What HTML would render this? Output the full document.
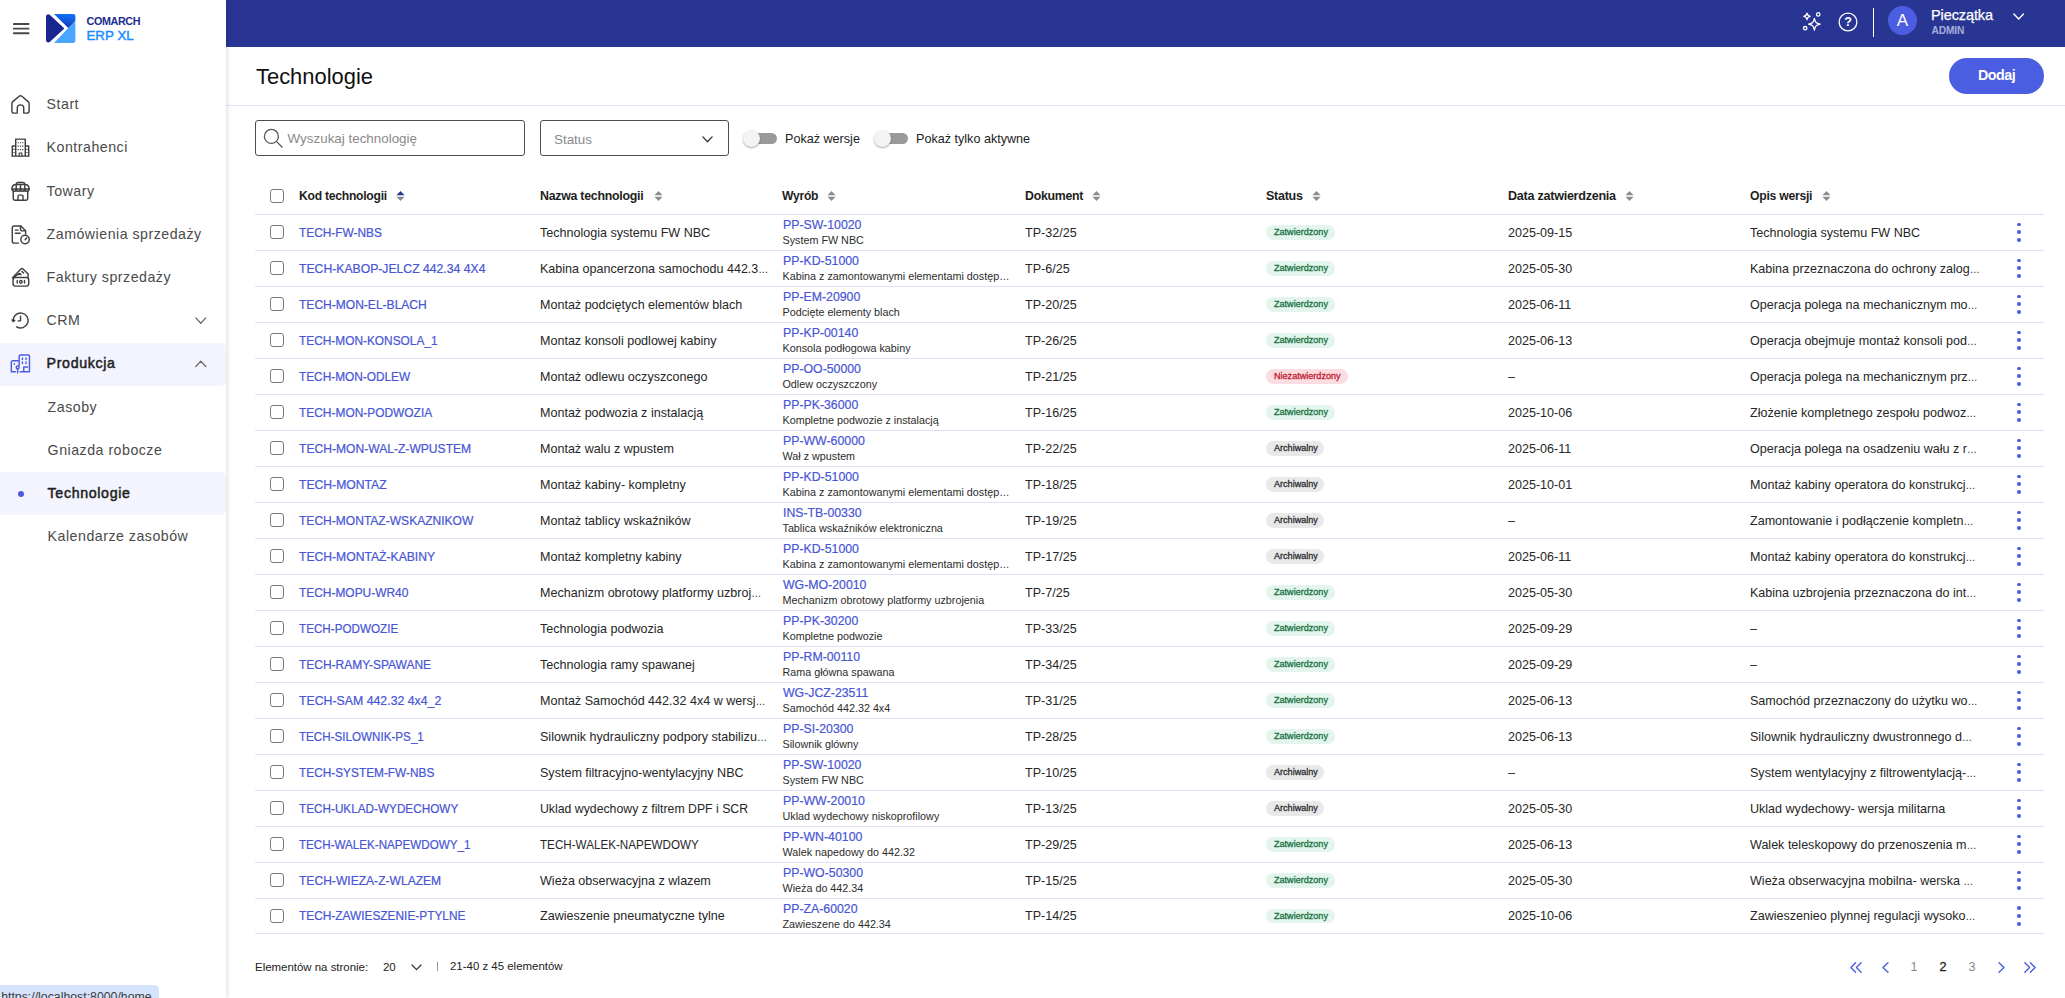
<!DOCTYPE html>
<html lang="pl"><head><meta charset="utf-8"><title>Technologie</title>
<style>
*{box-sizing:border-box;margin:0;padding:0}
html,body{width:2065px;height:998px;overflow:hidden;background:#fff}
body{font-family:"Liberation Sans", sans-serif;color:#222;position:relative;font-size:13px}
.abs{position:absolute}
svg{display:block;overflow:visible}
/* ---------- sidebar ---------- */
#side{position:absolute;left:0;top:0;width:226px;height:998px;background:#fff;z-index:3;
  box-shadow:1px 0 5px rgba(20,20,30,.15)}
.nav{position:absolute;left:0;width:226px;height:43px;}
.hlbg{position:absolute;left:0;width:226px;background:#f3f4fd;border-radius:0 5px 5px 0}
.nav .ic{position:absolute;left:9.7px;top:11px;width:21px;height:21px}
.nav .tx{position:absolute;left:46.6px;top:0;line-height:43px;font-size:14.2px;letter-spacing:.5px;color:#4a4a4a;white-space:nowrap}
.nav.sub .tx{left:47.6px}
.nav .tx.b{font-weight:normal;color:#1f1f1f;letter-spacing:.66px;font-size:14.2px;-webkit-text-stroke:.5px #1f1f1f}
.nav .chev{position:absolute;left:195.2px;top:17.6px;width:11.6px;height:7.4px}
.nav .dot{position:absolute;left:18px;top:19px;width:6px;height:6px;border-radius:50%;background:#4a5be0}
/* ---------- top bar ---------- */
#top{position:absolute;left:226px;top:0;width:1839px;height:46.6px;background:#283593;z-index:2}
#top .sep{position:absolute;left:1647px;top:8px;width:1px;height:29px;background:#fff}
#top .av{position:absolute;left:1662px;top:6px;width:29px;height:29px;border-radius:50%;background:#4b5de0;color:#fff;
  font-size:17px;line-height:29px;text-align:center}
#top .un{position:absolute;left:1705px;top:7px;font-size:14.5px;color:#fff;line-height:16px;white-space:nowrap;letter-spacing:-.1px;-webkit-text-stroke:.25px #fff}
#top .ur{position:absolute;left:1705.5px;top:24.8px;font-size:10.2px;color:#a9aedb;line-height:12px;font-weight:bold;letter-spacing:-.15px}
/* ---------- page header ---------- */
#title{position:absolute;left:255.5px;top:61.5px;font-size:22.8px;line-height:28px;color:#111;transform:scaleX(.961);transform-origin:0 50%;white-space:nowrap}
#hdrline{position:absolute;left:226px;top:105px;width:1839px;height:1px;background:#e2e2fa}
#add{position:absolute;left:1949px;top:58px;width:95px;height:36px;border-radius:18px;background:#4b5de0;color:#fff;
  font-weight:bold;font-size:14.3px;line-height:35px;text-align:center;letter-spacing:-.5px}
/* ---------- filters ---------- */
.box{position:absolute;top:120px;height:36px;border:1px solid #4d4d4d;border-radius:3px;background:#fff}
.ph{position:absolute;top:0;line-height:35px;font-size:13.4px;color:#8a8a8a;white-space:nowrap}
.tg{position:absolute;top:131px;width:34px;height:14px;margin-left:.1px}
.tg i{position:absolute;left:9px;top:2px;width:25px;height:11px;border-radius:6px;background:#9a9a9a}
.tg b{position:absolute;left:0;top:-1px;width:17px;height:17px;border-radius:50%;background:#f4f4f4;
  box-shadow:0 1px 2px rgba(0,0,0,.35)}
.tl{position:absolute;top:130.8px;font-size:12.6px;line-height:16px;color:#222;white-space:nowrap}
/* ---------- table ---------- */
#tbl{position:absolute;left:255px;top:177px;width:1788.7px}
.hr{position:relative;height:38px;border-bottom:1px solid #dedefa}
.r{position:relative;height:36px;border-bottom:1px solid #dedefa}
.r.last{height:35px}
.r.last .c{line-height:34px}
.r.last .cb{top:9.9px}
.r.last .bd{top:9.8px}
.r.last .kb{top:7.2px}
.cb{position:absolute;left:15px;width:14px;height:14px;border:1px solid #7a7a7a;border-radius:3px;background:#fff}
.hr .cb{top:12px}
.r .cb{top:10.4px}
.c{position:absolute;top:0;white-space:nowrap;line-height:35px;font-size:12.75px;color:#262626;transform:scaleX(.984);transform-origin:0 50%}
.el{font-size:10.2px}
.h{position:absolute;top:0;white-space:nowrap;line-height:38px;font-size:12px;font-weight:bold;color:#1e1e1e;letter-spacing:-.25px;transform-origin:0 50%}
.si{position:absolute;top:14px;width:9px;height:10px}
.c.lk{color:#4855d6;transform:scaleX(.934);transform-origin:0 50%;-webkit-text-stroke:.22px #4855d6}
.p1{position:absolute;left:527.6px;top:2px;line-height:16px;font-size:12.75px;color:#4855d6;white-space:nowrap;transform:scaleX(.965);transform-origin:0 50%;-webkit-text-stroke:.2px #4855d6}
.p2{position:absolute;left:527.5px;top:18px;line-height:14px;font-size:10.78px;color:#2c2c2c;white-space:nowrap}
.bd{position:absolute;left:1011.3px;top:10.2px;height:14.6px;border-radius:7.3px;font-size:9.5px;line-height:14.4px;padding:0 7.3px;white-space:nowrap;font-weight:normal;-webkit-text-stroke:.3px currentColor}
.bd span{display:inline-block;transform:scaleX(.955);transform-origin:0 50%;margin-right:-2.6px}
.bd.g{background:#e3f5ec;color:#17703f}
.bd.a{background:#e9e9ea;color:#2b2b2b}
.bd.n{background:#fbdde1;color:#c01833}
.kb{position:absolute;left:1761.8px;top:7.6px;width:3.8px;height:20px}
.kb i{position:absolute;left:0;width:3.8px;height:3.8px;border-radius:50%;background:#4b5de0}
/* ---------- footer ---------- */
.ft{position:absolute;top:959px;line-height:16px;font-size:11.45px;color:#222;white-space:nowrap}
.pg{position:absolute;top:958px;width:20px;text-align:center;line-height:18px;font-size:12.6px;color:#8a8a8a}
#sb{position:absolute;left:0;top:985.4px;width:158.6px;height:20px;background:#d5e3fc;border-top-right-radius:4.5px;z-index:5;
  font-size:12.3px;color:#3c3c3c;line-height:24.6px;padding-left:1.2px;white-space:nowrap;overflow:hidden}
</style></head>
<body>
<div id="side"><svg class="abs" style="left:12.6px;top:23px;width:16.4px;height:12px" viewBox="0 0 16.4 12" fill="#484848"><rect x="0" y="0.1" width="16.4" height="1.9" rx=".4"/><rect x="0" y="4.7" width="16.4" height="1.9" rx=".4"/><rect x="0" y="9.3" width="16.4" height="1.9" rx=".4"/></svg><svg class="abs" style="left:45.9px;top:14px;width:29.4px;height:28.9px" viewBox="0 0 29.4 28.9">
<defs><linearGradient id="lg1" x1="0.6" y1="0" x2="0.35" y2="1"><stop offset="0" stop-color="#0c72fb"/><stop offset="0.45" stop-color="#1258dc"/><stop offset="1" stop-color="#182f9f"/></linearGradient></defs>
<path d="M8 0 H27.2 a2.2 2.2 0 0 1 2.2 2.2 V6 C29 8 27 9.4 22.3 14.1 Z" fill="url(#lg1)"/>
<path d="M22.3 14.1 C27 9.4 29 8 29.4 6.4 V26.7 a2.2 2.2 0 0 1 -2.2 2.2 H8 Z" fill="#4aa5ff"/>
<path d="M0 2.8 C0 0.4 2.4 -0.4 4 1.1 L18.4 14.45 L4 27.8 C2.4 29.3 0 28.5 0 26.1 Z" fill="#17278f"/>
</svg><div class="abs" style="left:86.6px;top:14.6px;font-size:10.8px;line-height:13px;font-weight:bold;color:#1a2b8f;letter-spacing:-.42px;white-space:nowrap">COMARCH</div><div class="abs" style="left:86.4px;top:27.7px;font-size:13.3px;line-height:16px;color:#1a8cff;letter-spacing:.05px;white-space:nowrap;-webkit-text-stroke:.45px #1a8cff">ERP XL</div><div class="hlbg" style="top:343px;height:43px"></div><div class="hlbg" style="top:472px;height:42.6px"></div><div class="nav" style="top:82.5px"><div class="ic"><svg viewBox="0 0 22 22" fill="none" stroke="#3f3f3f" stroke-width="1.5" stroke-linecap="round" stroke-linejoin="round"><path d="M2 10 C2 9 2.4 8.4 3.2 7.7 L9.6 2.3 C10.5 1.6 11.5 1.6 12.4 2.3 L18.8 7.7 C19.6 8.4 20 9 20 10 V17.8 a2.2 2.2 0 0 1 -2.2 2.2 H14.4 V14.8 a3.4 3.4 0 0 0 -6.8 0 V20 H4.2 a2.2 2.2 0 0 1 -2.2 -2.2 Z"/></svg></div><span class="tx">Start</span></div><div class="nav" style="top:125.5px"><div class="ic"><svg viewBox="0 0 22 22" fill="none" stroke="#3f3f3f" stroke-width="1.5" stroke-linecap="round" stroke-linejoin="round" stroke-width="1.3"><path d="M6 20 V2.2 H16 V20 M2.4 20 V9.4 H6 M16 9.4 H19.6 V20 M2 20 H20"/><path d="M8.6 5.4v1.2M11 5.4v1.2M13.4 5.4v1.2M8.6 9v1.2M11 9v1.2M13.4 9v1.2M8.6 12.6v1.2M11 12.6v1.2M13.4 12.6v1.2M4.2 12.4v1.2M4.2 15.6v1.2M17.8 12.4v1.2M17.8 15.6v1.2" stroke-width="1.25" stroke-linecap="butt"/><path d="M9.6 20v-3.2h2.8v3.2" stroke-width="1.2"/></svg></div><span class="tx">Kontrahenci</span></div><div class="nav" style="top:169.5px"><div class="ic"><svg viewBox="0 0 22 22" fill="none" stroke="#3f3f3f" stroke-width="1.5" stroke-linecap="round" stroke-linejoin="round" stroke-width="1.4"><path d="M6.5 3.6 a2 2 0 0 1 2 -2 h5 a2 2 0 0 1 2 2"/><path d="M2 8.4 C2 5.2 4 3.6 6.5 3.6 H15.5 C18 3.6 20 5.2 20 8.4 Z"/><path d="M2 8.4 a2.25 2.25 0 0 0 4.5 0 a2.25 2.25 0 0 0 4.5 0 a2.25 2.25 0 0 0 4.5 0 a2.25 2.25 0 0 0 4.5 0"/><path d="M6.5 3.8v4.6M11 3.8v4.6M15.5 3.8v4.6"/><path d="M3.4 11 V18.4 a1.8 1.8 0 0 0 1.8 1.8 H16.8 a1.8 1.8 0 0 0 1.8 -1.8 V11"/><path d="M8.4 20 V16 a1.2 1.2 0 0 1 1.2 -1.2 h2.8 a1.2 1.2 0 0 1 1.2 1.2 V20"/></svg></div><span class="tx">Towary</span></div><div class="nav" style="top:212.5px"><div class="ic"><svg viewBox="0 0 22 22" fill="none" stroke="#3f3f3f" stroke-width="1.5" stroke-linecap="round" stroke-linejoin="round" stroke-width="1.4"><path d="M9 20 H4.4 a2 2 0 0 1 -2 -2 V4 a2 2 0 0 1 2 -2 H11.4 L16.4 7 V10.6"/><path d="M11 2.4 V5.6 a1.6 1.6 0 0 0 1.6 1.6 H16"/><path d="M5.6 6.4h3M5.6 9.6h5"/><circle cx="15.8" cy="16.2" r="4.4"/><path d="M15.8 16.4 L17.6 14.4"/></svg></div><span class="tx">Zamówienia sprzedaży</span></div><div class="nav" style="top:255.5px"><div class="ic"><svg viewBox="0 0 22 22" fill="none" stroke="#3f3f3f" stroke-width="1.5" stroke-linecap="round" stroke-linejoin="round" stroke-width="1.4"><path d="M2.6 11.2 L11.4 2 a1.6 1.6 0 0 1 2.2 0 L19 7.4 V10.6"/><path d="M4.4 10.8 C6 8.6 8 7.2 10 7.6 M8.6 8.2 a1.4 1.4 0 0 1 2.8 0"/><path d="M12.4 4.6 L14.2 6.4"/><rect x="3.2" y="11" width="16.4" height="9" rx="2.4"/><path d="M7.6 14.2v2.6M15.2 14.2v2.6"/><ellipse cx="11.4" cy="15.5" rx="1.3" ry="1.5"/></svg></div><span class="tx">Faktury sprzedaży</span></div><div class="nav" style="top:298.5px"><div class="ic"><svg viewBox="0 0 22 22" fill="none" stroke="#3f3f3f" stroke-width="1.5" stroke-linecap="round" stroke-linejoin="round" stroke-width="1.4"><path d="M3.4 11.6 A7.8 7.8 0 1 1 7 17.6"/><path d="M2.2 10.4 L3.4 12 L5 10.8" /><path d="M11 6.6 V11.4 H8.6"/></svg></div><span class="tx">CRM</span><svg class="chev" style="top:18.6px" viewBox="0 0 11.6 7.4" fill="none" stroke="#666" stroke-width="1.25" stroke-linecap="round" stroke-linejoin="round"><path d="M0.8 0.9 L5.8 6.3 L10.8 0.9"/></svg></div><div class="nav" style="top:342.0px"><div class="ic"><svg viewBox="0 0 22 22" fill="none" stroke="#4b5de0" stroke-width="1.5" stroke-linecap="round" stroke-linejoin="round" stroke-width="1.5"><path d="M1.4 19.6 V9.6 a1.4 1.4 0 0 1 1.4 -1.4 H9.6 V3.4 a1.4 1.4 0 0 1 1.4 -1.4 H19 a1.4 1.4 0 0 1 1.4 1.4 V19.6 H14.4 V14.6 H18.4 M1.4 19.6 H5.6 M10.6 19.6 H14.4 M9.6 8.2 V13"/><path d="M13 5.2v1.6M16.8 5.2v1.6M13 9.4v1.6M16.8 9.4v1.6M4.6 11.2v.6"/><circle cx="8" cy="15.2" r="1.5"/><path d="M8 16.8 V20.6"/></svg></div><span class="tx b">Produkcja</span><svg class="chev" viewBox="0 0 11.6 7.4" fill="none" stroke="#666" stroke-width="1.25" stroke-linecap="round" stroke-linejoin="round"><path d="M0.8 6.5 L5.8 1.1 L10.8 6.5"/></svg></div><div class="nav sub" style="top:385.5px"><span class="tx">Zasoby</span></div><div class="nav sub" style="top:428.5px"><span class="tx">Gniazda robocze</span></div><div class="nav sub" style="top:471.5px"><span class="dot"></span><span class="tx b">Technologie</span></div><div class="nav sub" style="top:514.5px"><span class="tx">Kalendarze zasobów</span></div></div>
<div id="top"><svg class="abs" style="left:1576px;top:11px;width:20px;height:21px" viewBox="0 0 20 21" fill="none" stroke="#fff" stroke-width="1.3" stroke-linejoin="round">
<path d="M5 2.2 C5.4 4.4 6 5 8.2 5.4 C6 5.8 5.4 6.4 5 8.6 C4.6 6.4 4 5.8 1.8 5.4 C4 5 4.6 4.4 5 2.2 Z"/>
<path d="M12.4 7.4 C13.2 11.4 14.2 12.4 18.2 13.2 C14.2 14 13.2 15 12.4 19 C11.6 15 10.6 14 6.6 13.2 C10.6 12.4 11.6 11.4 12.4 7.4 Z"/>
<circle cx="16.2" cy="3.4" r="1.7"/><circle cx="3.2" cy="17.2" r="1.7"/></svg><svg class="abs" style="left:1611.9px;top:12px;width:20px;height:20px" viewBox="0 0 20 20"><circle cx="10" cy="10" r="8.9" fill="none" stroke="#fff" stroke-width="1.3"/>
<text x="10" y="14.4" text-anchor="middle" font-family="Liberation Sans, sans-serif" font-weight="bold" font-size="12.5" fill="#fff">?</text></svg><div class="sep"></div><div class="av">A</div><div class="un">Pieczątka</div><div class="ur">ADMIN</div><svg class="abs" style="left:1787.4px;top:13.4px;width:11.4px;height:7px" viewBox="0 0 11.4 7" fill="none" stroke="#fff" stroke-width="1.4" stroke-linecap="round" stroke-linejoin="round"><path d="M0.9 0.9 L5.7 5.9 L10.5 0.9"/></svg></div>
<div id="title">Technologie</div><div id="add">Dodaj</div><div id="hdrline"></div><div class="box" style="left:255px;width:270px"><svg class="abs" style="left:6.5px;top:7.3px;width:20px;height:20px" viewBox="0 0 20 20" fill="none" stroke="#555" stroke-width="1.3" stroke-linecap="round"><circle cx="8.4" cy="8.4" r="7"/><path d="M13.6 13.6 L19 19"/></svg><span class="ph" style="left:31.6px">Wyszukaj technologię</span></div><div class="box" style="left:540px;width:189px"><span class="ph" style="left:13px;top:1px">Status</span><svg class="abs" style="left:160.8px;top:14.6px;width:11px;height:7px" viewBox="0 0 11 7" fill="none" stroke="#333" stroke-width="1.35" stroke-linecap="round" stroke-linejoin="round"><path d="M0.9 0.9 L5.5 5.8 L10.1 0.9"/></svg></div><div class="tg" style="left:743px"><i></i><b></b></div><div class="tl" style="left:785px">Pokaż wersje</div><div class="tg" style="left:874px"><i></i><b></b></div><div class="tl" style="left:916px">Pokaż tylko aktywne</div>
<div id="tbl"><div class="hr"><span class="cb"></span><span class="h" style="left:43.6px;transform:scaleX(1.011)">Kod technologii</span><svg class="si" style="left:141.2px" viewBox="0 0 9 10"><path d="M0.4 4.2 L4.5 0 L8.6 4.2 Z" fill="#283593"/><path d="M0.4 5.8 L4.5 10 L8.6 5.8 Z" fill="#8c8c8c"/></svg><span class="h" style="left:285.0px;transform:scaleX(1.03)">Nazwa technologii</span><svg class="si" style="left:398.6px" viewBox="0 0 9 10"><path d="M0.4 4.2 L4.5 0 L8.6 4.2 Z" fill="#8c8c8c"/><path d="M0.4 5.8 L4.5 10 L8.6 5.8 Z" fill="#8c8c8c"/></svg><span class="h" style="left:527px;transform:scaleX(1.01)">Wyrób</span><svg class="si" style="left:572px" viewBox="0 0 9 10"><path d="M0.4 4.2 L4.5 0 L8.6 4.2 Z" fill="#8c8c8c"/><path d="M0.4 5.8 L4.5 10 L8.6 5.8 Z" fill="#8c8c8c"/></svg><span class="h" style="left:769.6px;transform:scaleX(1.027)">Dokument</span><svg class="si" style="left:837px" viewBox="0 0 9 10"><path d="M0.4 4.2 L4.5 0 L8.6 4.2 Z" fill="#8c8c8c"/><path d="M0.4 5.8 L4.5 10 L8.6 5.8 Z" fill="#8c8c8c"/></svg><span class="h" style="left:1011px;transform:scaleX(1.04)">Status</span><svg class="si" style="left:1057px" viewBox="0 0 9 10"><path d="M0.4 4.2 L4.5 0 L8.6 4.2 Z" fill="#8c8c8c"/><path d="M0.4 5.8 L4.5 10 L8.6 5.8 Z" fill="#8c8c8c"/></svg><span class="h" style="left:1253.4px;transform:scaleX(1.048)">Data zatwierdzenia</span><svg class="si" style="left:1370px" viewBox="0 0 9 10"><path d="M0.4 4.2 L4.5 0 L8.6 4.2 Z" fill="#8c8c8c"/><path d="M0.4 5.8 L4.5 10 L8.6 5.8 Z" fill="#8c8c8c"/></svg><span class="h" style="left:1494.9px;transform:scaleX(1.016)">Opis wersji</span><svg class="si" style="left:1567px" viewBox="0 0 9 10"><path d="M0.4 4.2 L4.5 0 L8.6 4.2 Z" fill="#8c8c8c"/><path d="M0.4 5.8 L4.5 10 L8.6 5.8 Z" fill="#8c8c8c"/></svg></div><div class="r"><span class="cb"></span><span class="c lk" style="left:43.6px;transform:scaleX(0.9317)">TECH-FW-NBS</span><span class="c" style="left:285.0px">Technologia systemu FW NBC</span><span class="p1">PP-SW-10020</span><span class="p2">System FW NBC</span><span class="c" style="left:769.6px">TP-32/25</span><span class="bd g"><span>Zatwierdzony</span></span><span class="c" style="left:1253.4px">2025-09-15</span><span class="c" style="left:1494.9px">Technologia systemu FW NBC</span><span class="kb"><i style="top:0"></i><i style="top:7.85px"></i><i style="top:15.7px"></i></span></div><div class="r"><span class="cb"></span><span class="c lk" style="left:43.6px;transform:scaleX(0.9566)">TECH-KABOP-JELCZ 442.34 4X4</span><span class="c" style="left:285.0px">Kabina opancerzona samochodu 442.3<span class="el">…</span></span><span class="p1">PP-KD-51000</span><span class="p2">Kabina z zamontowanymi elementami dostęp<span class="el">…</span></span><span class="c" style="left:769.6px">TP-6/25</span><span class="bd g"><span>Zatwierdzony</span></span><span class="c" style="left:1253.4px">2025-05-30</span><span class="c" style="left:1494.9px">Kabina przeznaczona do ochrony zalog<span class="el">…</span></span><span class="kb"><i style="top:0"></i><i style="top:7.85px"></i><i style="top:15.7px"></i></span></div><div class="r"><span class="cb"></span><span class="c lk" style="left:43.6px;transform:scaleX(0.9441)">TECH-MON-EL-BLACH</span><span class="c" style="left:285.0px">Montaż podciętych elementów blach</span><span class="p1">PP-EM-20900</span><span class="p2">Podcięte elementy blach</span><span class="c" style="left:769.6px">TP-20/25</span><span class="bd g"><span>Zatwierdzony</span></span><span class="c" style="left:1253.4px">2025-06-11</span><span class="c" style="left:1494.9px">Operacja polega na mechanicznym mo<span class="el">…</span></span><span class="kb"><i style="top:0"></i><i style="top:7.85px"></i><i style="top:15.7px"></i></span></div><div class="r"><span class="cb"></span><span class="c lk" style="left:43.6px;transform:scaleX(0.9315)">TECH-MON-KONSOLA_1</span><span class="c" style="left:285.0px">Montaz konsoli podlowej kabiny</span><span class="p1">PP-KP-00140</span><span class="p2">Konsola podłogowa kabiny</span><span class="c" style="left:769.6px">TP-26/25</span><span class="bd g"><span>Zatwierdzony</span></span><span class="c" style="left:1253.4px">2025-06-13</span><span class="c" style="left:1494.9px">Operacja obejmuje montaż konsoli pod<span class="el">…</span></span><span class="kb"><i style="top:0"></i><i style="top:7.85px"></i><i style="top:15.7px"></i></span></div><div class="r"><span class="cb"></span><span class="c lk" style="left:43.6px;transform:scaleX(0.9283)">TECH-MON-ODLEW</span><span class="c" style="left:285.0px">Montaż odlewu oczyszconego</span><span class="p1">PP-OO-50000</span><span class="p2">Odlew oczyszczony</span><span class="c" style="left:769.6px">TP-21/25</span><span class="bd n"><span>Niezatwierdzony</span></span><span class="c" style="left:1253.4px">–</span><span class="c" style="left:1494.9px">Operacja polega na mechanicznym prz<span class="el">…</span></span><span class="kb"><i style="top:0"></i><i style="top:7.85px"></i><i style="top:15.7px"></i></span></div><div class="r"><span class="cb"></span><span class="c lk" style="left:43.6px;transform:scaleX(0.9355)">TECH-MON-PODWOZIA</span><span class="c" style="left:285.0px">Montaż podwozia z instalacją</span><span class="p1">PP-PK-36000</span><span class="p2">Kompletne podwozie z instalacją</span><span class="c" style="left:769.6px">TP-16/25</span><span class="bd g"><span>Zatwierdzony</span></span><span class="c" style="left:1253.4px">2025-10-06</span><span class="c" style="left:1494.9px">Złożenie kompletnego zespołu podwoz<span class="el">…</span></span><span class="kb"><i style="top:0"></i><i style="top:7.85px"></i><i style="top:15.7px"></i></span></div><div class="r"><span class="cb"></span><span class="c lk" style="left:43.6px;transform:scaleX(0.9484)">TECH-MON-WAL-Z-WPUSTEM</span><span class="c" style="left:285.0px">Montaż walu z wpustem</span><span class="p1">PP-WW-60000</span><span class="p2">Wał z wpustem</span><span class="c" style="left:769.6px">TP-22/25</span><span class="bd a"><span>Archiwalny</span></span><span class="c" style="left:1253.4px">2025-06-11</span><span class="c" style="left:1494.9px">Operacja polega na osadzeniu wału z r<span class="el">…</span></span><span class="kb"><i style="top:0"></i><i style="top:7.85px"></i><i style="top:15.7px"></i></span></div><div class="r"><span class="cb"></span><span class="c lk" style="left:43.6px;transform:scaleX(0.9537)">TECH-MONTAZ</span><span class="c" style="left:285.0px">Montaż kabiny- kompletny</span><span class="p1">PP-KD-51000</span><span class="p2">Kabina z zamontowanymi elementami dostęp<span class="el">…</span></span><span class="c" style="left:769.6px">TP-18/25</span><span class="bd a"><span>Archiwalny</span></span><span class="c" style="left:1253.4px">2025-10-01</span><span class="c" style="left:1494.9px">Montaż kabiny operatora do konstrukcj<span class="el">…</span></span><span class="kb"><i style="top:0"></i><i style="top:7.85px"></i><i style="top:15.7px"></i></span></div><div class="r"><span class="cb"></span><span class="c lk" style="left:43.6px;transform:scaleX(0.9444)">TECH-MONTAZ-WSKAZNIKOW</span><span class="c" style="left:285.0px">Montaż tablicy wskaźników</span><span class="p1">INS-TB-00330</span><span class="p2">Tablica wskaźników elektroniczna</span><span class="c" style="left:769.6px">TP-19/25</span><span class="bd a"><span>Archiwalny</span></span><span class="c" style="left:1253.4px">–</span><span class="c" style="left:1494.9px">Zamontowanie i podłączenie kompletn<span class="el">…</span></span><span class="kb"><i style="top:0"></i><i style="top:7.85px"></i><i style="top:15.7px"></i></span></div><div class="r"><span class="cb"></span><span class="c lk" style="left:43.6px;transform:scaleX(0.9527)">TECH-MONTAŻ-KABINY</span><span class="c" style="left:285.0px">Montaż kompletny kabiny</span><span class="p1">PP-KD-51000</span><span class="p2">Kabina z zamontowanymi elementami dostęp<span class="el">…</span></span><span class="c" style="left:769.6px">TP-17/25</span><span class="bd a"><span>Archiwalny</span></span><span class="c" style="left:1253.4px">2025-06-11</span><span class="c" style="left:1494.9px">Montaż kabiny operatora do konstrukcj<span class="el">…</span></span><span class="kb"><i style="top:0"></i><i style="top:7.85px"></i><i style="top:15.7px"></i></span></div><div class="r"><span class="cb"></span><span class="c lk" style="left:43.6px;transform:scaleX(0.9352)">TECH-MOPU-WR40</span><span class="c" style="left:285.0px">Mechanizm obrotowy platformy uzbroj<span class="el">…</span></span><span class="p1">WG-MO-20010</span><span class="p2">Mechanizm obrotowy platformy uzbrojenia</span><span class="c" style="left:769.6px">TP-7/25</span><span class="bd g"><span>Zatwierdzony</span></span><span class="c" style="left:1253.4px">2025-05-30</span><span class="c" style="left:1494.9px">Kabina uzbrojenia przeznaczona do int<span class="el">…</span></span><span class="kb"><i style="top:0"></i><i style="top:7.85px"></i><i style="top:15.7px"></i></span></div><div class="r"><span class="cb"></span><span class="c lk" style="left:43.6px;transform:scaleX(0.9151)">TECH-PODWOZIE</span><span class="c" style="left:285.0px">Technologia podwozia</span><span class="p1">PP-PK-30200</span><span class="p2">Kompletne podwozie</span><span class="c" style="left:769.6px">TP-33/25</span><span class="bd g"><span>Zatwierdzony</span></span><span class="c" style="left:1253.4px">2025-09-29</span><span class="c" style="left:1494.9px">–</span><span class="kb"><i style="top:0"></i><i style="top:7.85px"></i><i style="top:15.7px"></i></span></div><div class="r"><span class="cb"></span><span class="c lk" style="left:43.6px;transform:scaleX(0.9384)">TECH-RAMY-SPAWANE</span><span class="c" style="left:285.0px">Technologia ramy spawanej</span><span class="p1">PP-RM-00110</span><span class="p2">Rama główna spawana</span><span class="c" style="left:769.6px">TP-34/25</span><span class="bd g"><span>Zatwierdzony</span></span><span class="c" style="left:1253.4px">2025-09-29</span><span class="c" style="left:1494.9px">–</span><span class="kb"><i style="top:0"></i><i style="top:7.85px"></i><i style="top:15.7px"></i></span></div><div class="r"><span class="cb"></span><span class="c lk" style="left:43.6px;transform:scaleX(0.9651)">TECH-SAM 442.32 4x4_2</span><span class="c" style="left:285.0px">Montaż Samochód 442.32 4x4 w wersj<span class="el">…</span></span><span class="p1">WG-JCZ-23511</span><span class="p2">Samochód 442.32 4x4</span><span class="c" style="left:769.6px">TP-31/25</span><span class="bd g"><span>Zatwierdzony</span></span><span class="c" style="left:1253.4px">2025-06-13</span><span class="c" style="left:1494.9px">Samochód przeznaczony do użytku wo<span class="el">…</span></span><span class="kb"><i style="top:0"></i><i style="top:7.85px"></i><i style="top:15.7px"></i></span></div><div class="r"><span class="cb"></span><span class="c lk" style="left:43.6px;transform:scaleX(0.9129)">TECH-SILOWNIK-PS_1</span><span class="c" style="left:285.0px">Silownik hydrauliczny podpory stabilizu<span class="el">…</span></span><span class="p1">PP-SI-20300</span><span class="p2">Silownik glówny</span><span class="c" style="left:769.6px">TP-28/25</span><span class="bd g"><span>Zatwierdzony</span></span><span class="c" style="left:1253.4px">2025-06-13</span><span class="c" style="left:1494.9px">Silownik hydrauliczny dwustronnego d<span class="el">…</span></span><span class="kb"><i style="top:0"></i><i style="top:7.85px"></i><i style="top:15.7px"></i></span></div><div class="r"><span class="cb"></span><span class="c lk" style="left:43.6px;transform:scaleX(0.9294)">TECH-SYSTEM-FW-NBS</span><span class="c" style="left:285.0px">System filtracyjno-wentylacyjny NBC</span><span class="p1">PP-SW-10020</span><span class="p2">System FW NBC</span><span class="c" style="left:769.6px">TP-10/25</span><span class="bd a"><span>Archiwalny</span></span><span class="c" style="left:1253.4px">–</span><span class="c" style="left:1494.9px">System wentylacyjny z filtrowentylacją-<span class="el">…</span></span><span class="kb"><i style="top:0"></i><i style="top:7.85px"></i><i style="top:15.7px"></i></span></div><div class="r"><span class="cb"></span><span class="c lk" style="left:43.6px;transform:scaleX(0.9213)">TECH-UKLAD-WYDECHOWY</span><span class="c" style="left:285.0px;transform:scaleX(0.963)">Uklad wydechowy z filtrem DPF i SCR</span><span class="p1">PP-WW-20010</span><span class="p2">Uklad wydechowy niskoprofilowy</span><span class="c" style="left:769.6px">TP-13/25</span><span class="bd a"><span>Archiwalny</span></span><span class="c" style="left:1253.4px">2025-05-30</span><span class="c" style="left:1494.9px">Uklad wydechowy- wersja militarna</span><span class="kb"><i style="top:0"></i><i style="top:7.85px"></i><i style="top:15.7px"></i></span></div><div class="r"><span class="cb"></span><span class="c lk" style="left:43.6px;transform:scaleX(0.9121)">TECH-WALEK-NAPEWDOWY_1</span><span class="c" style="left:285.0px;transform:scaleX(0.914)">TECH-WALEK-NAPEWDOWY</span><span class="p1">PP-WN-40100</span><span class="p2">Walek napedowy do 442.32</span><span class="c" style="left:769.6px">TP-29/25</span><span class="bd g"><span>Zatwierdzony</span></span><span class="c" style="left:1253.4px">2025-06-13</span><span class="c" style="left:1494.9px">Walek teleskopowy do przenoszenia m<span class="el">…</span></span><span class="kb"><i style="top:0"></i><i style="top:7.85px"></i><i style="top:15.7px"></i></span></div><div class="r"><span class="cb"></span><span class="c lk" style="left:43.6px;transform:scaleX(0.9469)">TECH-WIEZA-Z-WLAZEM</span><span class="c" style="left:285.0px">Wieża obserwacyjna z wlazem</span><span class="p1">PP-WO-50300</span><span class="p2">Wieża do 442.34</span><span class="c" style="left:769.6px">TP-15/25</span><span class="bd g"><span>Zatwierdzony</span></span><span class="c" style="left:1253.4px">2025-05-30</span><span class="c" style="left:1494.9px">Wieża obserwacyjna mobilna- werska <span class="el">…</span></span><span class="kb"><i style="top:0"></i><i style="top:7.85px"></i><i style="top:15.7px"></i></span></div><div class="r last"><span class="cb"></span><span class="c lk" style="left:43.6px;transform:scaleX(0.9312)">TECH-ZAWIESZENIE-PTYLNE</span><span class="c" style="left:285.0px">Zawieszenie pneumatyczne tylne</span><span class="p1">PP-ZA-60020</span><span class="p2">Zawieszene do 442.34</span><span class="c" style="left:769.6px">TP-14/25</span><span class="bd g"><span>Zatwierdzony</span></span><span class="c" style="left:1253.4px">2025-10-06</span><span class="c" style="left:1494.9px">Zawieszenieo plynnej regulacji wysoko<span class="el">…</span></span><span class="kb"><i style="top:0"></i><i style="top:7.85px"></i><i style="top:15.7px"></i></span></div></div>
<div class="ft" style="left:255px">Elementów na stronie:</div><div class="ft" style="left:383px">20</div><svg class="abs" style="left:411px;top:964px;width:11px;height:7px" viewBox="0 0 11 7" fill="none" stroke="#333" stroke-width="1.3" stroke-linecap="round" stroke-linejoin="round"><path d="M1 1 L5.5 5.6 L10 1"/></svg><div class="abs" style="left:437px;top:962px;width:1px;height:9px;background:#999"></div><div class="ft" style="left:450px;top:958px">21-40 z 45 elementów</div><svg class="abs" style="left:1850.4px;top:962px;width:12px;height:11px" viewBox="0 0 12 11" fill="none" stroke="#4b5de0" stroke-width="1.4" stroke-linecap="round" stroke-linejoin="round"><path d="M5.6 0.8 L0.9 5.5 L5.6 10.2 M11.1 0.8 L6.4 5.5 L11.1 10.2"/></svg><svg class="abs" style="left:1882px;top:962px;width:7px;height:11px" viewBox="0 0 7 11" fill="none" stroke="#4b5de0" stroke-width="1.4" stroke-linecap="round" stroke-linejoin="round"><path d="M6 0.8 L1 5.5 L6 10.2"/></svg><div class="pg" style="left:1904px">1</div><div class="pg" style="left:1933px;color:#222;-webkit-text-stroke:.3px #222">2</div><div class="pg" style="left:1962px">3</div><svg class="abs" style="left:1998px;top:962px;width:7px;height:11px" viewBox="0 0 7 11" fill="none" stroke="#4b5de0" stroke-width="1.4" stroke-linecap="round" stroke-linejoin="round"><path d="M1 0.8 L6 5.5 L1 10.2"/></svg><svg class="abs" style="left:2024px;top:962px;width:12px;height:11px" viewBox="0 0 12 11" fill="none" stroke="#4b5de0" stroke-width="1.4" stroke-linecap="round" stroke-linejoin="round"><path d="M0.9 0.8 L5.6 5.5 L0.9 10.2 M6.4 0.8 L11.1 5.5 L6.4 10.2"/></svg><div id="sb">https://localhost:8000/home</div>
</body></html>
